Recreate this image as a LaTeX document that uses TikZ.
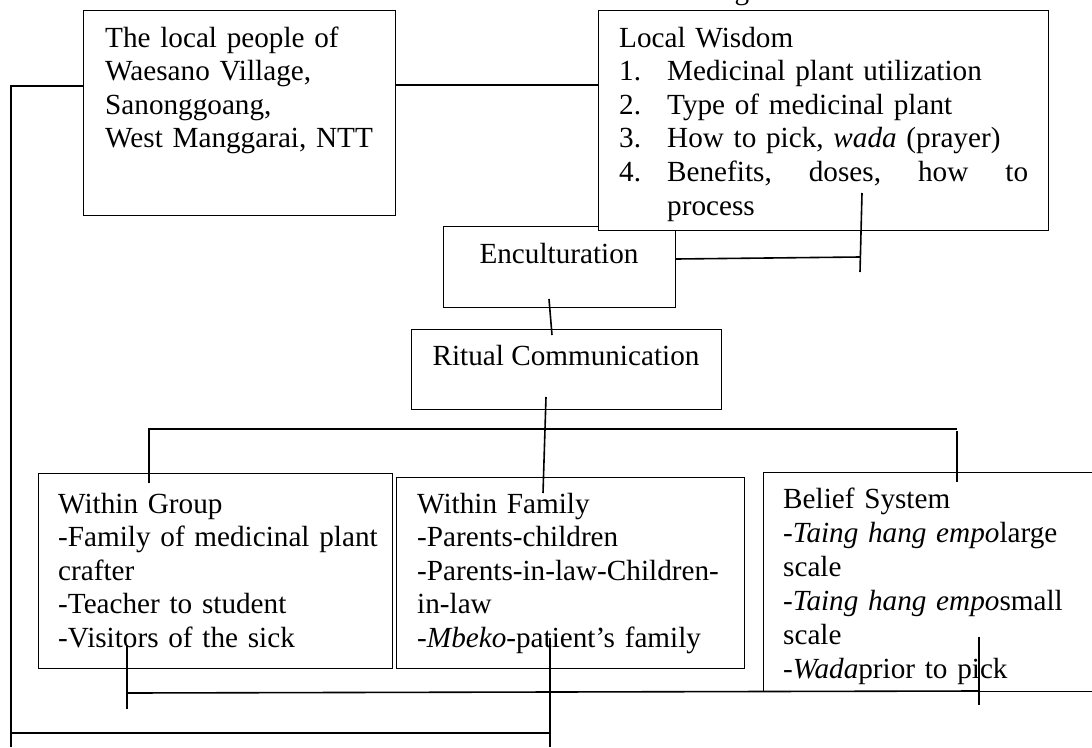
\documentclass[tikz,border=0pt]{standalone}
\usepackage{fontspec}
\setmainfont{Liberation Serif}
\newcommand{\fsz}{\fontsize{29.2}{33.6}\selectfont}
\begin{document}
\begin{tikzpicture}[x=1pt,y=-1pt,
  box/.style={draw, line width=1.1pt, inner sep=0pt, anchor=north west, fill=white},
  txt/.style={anchor=base west, inner sep=0pt, font=\fsz, text width=#1, align=left},
  txt/.default=335,
  ctxt/.style={anchor=base, inner sep=0pt, font=\fsz},
  conn/.style={line width=1.6pt}]
\useasboundingbox (0,0) rectangle (1092,747);
\clip (0,0) rectangle (1092,747);

% fragment of text cut at the top
\node[ctxt] (gfrag) at (742,-1) {g};

% boxes
\node[box, minimum width=312, minimum height=205] (lp) at (83,10) {};
\node[box, minimum width=232, minimum height=81] (enc) at (443,226) {};
\node[box, minimum width=450, minimum height=220] (lw) at (598,10) {};
\node[box, minimum width=310, minimum height=80] (rc) at (411,329) {};
\node[box, minimum width=354, minimum height=195] (wg) at (38,473) {};
\node[box, minimum width=348, minimum height=191] (wf) at (396,477) {};
\node[box, minimum width=360, minimum height=219] (bs) at (763,472) {};

% texts
\node[txt] (lpt) at (105,47) {The local people of\\Waesano Village,\\Sanonggoang,\\West Manggarai, NTT};
\node[txt=420] (lwt) at (619,47) {Local Wisdom\\
\makebox[48pt][l]{1.}Medicinal plant utilization\\
\makebox[48pt][l]{2.}Type of medicinal plant\\
\makebox[48pt][l]{3.}How to pick, \textit{wada} (prayer)\\
\makebox[48pt][l]{4.}\makebox[361pt][s]{Benefits,\hfill doses,\hfill how\hfill to}\\
\hspace*{48pt}process};
\node[ctxt] (enct) at (559,263) {Enculturation};
\node[ctxt] (rct) at (566,365) {Ritual Communication};
\node[txt] (wgt) at (58,513) {Within Group\\-Family of medicinal plant\\crafter\\-Teacher to student\\-Visitors of the sick};
\node[txt] (wft) at (417,513) {Within Family\\-Parents-children\\-Parents-in-law-Children-\\in-law\\-\textit{Mbeko}-patient’s family};
\node[txt, font=\fontsize{29.2}{34}\selectfont] (bst) at (783,508) {Belief System\\-\textit{Taing hang empo}large\\scale\\-\textit{Taing hang empo}small\\scale\\-\textit{Wada}prior to pick};

% connectors
\coordinate (lbTop) at (11,86);
\coordinate (lbBot) at (11,747);
\draw[conn] (lp.west |- lbTop) -- (lbTop) -- (lbBot);

\coordinate (h1) at (0,85);
\draw[conn] (lp.east |- h1) -- (lw.west |- h1);

\coordinate (h2) at (0,259);
\coordinate (e1) at (860,257);
\draw[conn] (enc.east |- h2) -- (e1);
\coordinate (t1a) at (862,193);
\coordinate (t1b) at (860,272);
\draw[conn] (t1a) -- (t1b);

\coordinate (a1) at (549,299);
\coordinate (a2) at (552,335);
\draw[conn] (a1) -- (a2);

\coordinate (b1) at (546,397);
\coordinate (b2) at (543,493);
\draw[conn] (b1) -- (b2);

\coordinate (busL) at (148,429);
\coordinate (busR) at (957,429);
\draw[conn] (busL) -- (busR);
\coordinate (wgTick) at (149,483);
\draw[conn] (149,429) -- (wgTick);
\coordinate (bsTick) at (957,482);
\draw[conn] (957,431) -- (bsTick);

\coordinate (c1) at (127,645);
\coordinate (c2) at (127,709);
\draw[conn] (c1) -- (c2);
\coordinate (c3) at (127,693);
\coordinate (c4) at (978,691);
\draw[conn] (c3) -- (c4);
\coordinate (d1) at (979,637);
\coordinate (d2) at (979,705);
\draw[conn] (d1) -- (d2);

\coordinate (f1) at (550,638);
\coordinate (f2) at (550,747);
\draw[conn] (f1) -- (f2);
\coordinate (f3) at (10,733);
\draw[conn] (f3) -- (f1 |- f3);
\end{tikzpicture}
\end{document}
